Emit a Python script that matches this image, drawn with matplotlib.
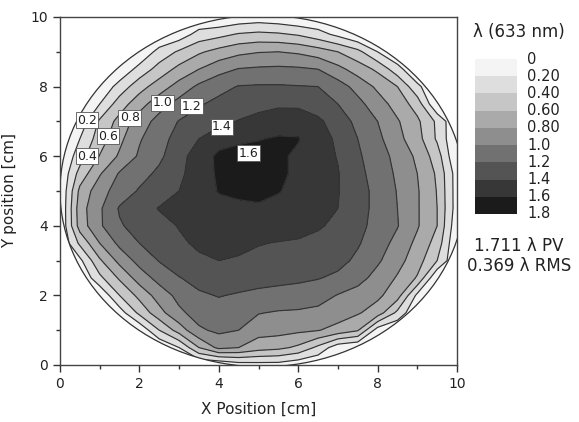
import numpy as np
import matplotlib
matplotlib.use("Agg")
import matplotlib.pyplot as plt
from matplotlib.patches import Ellipse
from matplotlib.transforms import blended_transform_factory

# wavefront error in waves (633 nm) on a 0.5 cm grid
# rows: y = 0 .. 10 cm, columns: x = 0 .. 10 cm
x_cm = np.linspace(0, 10, 21)
y_cm = np.linspace(0, 10, 21)
wavefront = [
    [0, 0, 0, 0, 0, 0, 0, 0, 0, 0.10, 0.12, 0.12, 0.05, 0, 0, 0, 0, 0, 0, 0, 0],
    [0, 0, 0, 0, 0, 0, 0.20, 0.60, 0.85, 0.80, 0.69, 0.65, 0.56, 0.35, 0.07, 0, 0, 0, 0, 0, 0],
    [0, 0, 0, 0, 0.03, 0.40, 0.69, 0.97, 1.04, 1.00, 0.88, 0.87, 0.84, 0.81, 0.73, 0.62, 0.10, 0, 0, 0, 0],
    [0, 0, 0, 0.10, 0.45, 0.73, 0.96, 1.08, 1.12, 1.08, 1.01, 0.98, 0.97, 0.95, 0.90, 0.82, 0.71, 0.35, 0, 0, 0],
    [0, 0, 0.02, 0.40, 0.66, 0.89, 1.06, 1.17, 1.21, 1.18, 1.16, 1.15, 1.13, 1.08, 0.99, 0.92, 0.84, 0.69, 0.15, 0, 0],
    [0, 0, 0.35, 0.63, 0.89, 1.07, 1.19, 1.27, 1.32, 1.30, 1.26, 1.24, 1.23, 1.21, 1.16, 1.07, 0.93, 0.78, 0.58, 0, 0],
    [0, 0.15, 0.57, 0.86, 1.07, 1.21, 1.31, 1.37, 1.40, 1.38, 1.35, 1.33, 1.32, 1.30, 1.26, 1.16, 1.03, 0.87, 0.69, 0.40, 0],
    [0, 0.44, 0.80, 1.05, 1.20, 1.28, 1.37, 1.43, 1.46, 1.45, 1.41, 1.39, 1.38, 1.35, 1.30, 1.22, 1.09, 0.94, 0.75, 0.52, 0],
    [0, 0.69, 0.97, 1.18, 1.27, 1.34, 1.41, 1.47, 1.52, 1.54, 1.53, 1.50, 1.46, 1.42, 1.36, 1.26, 1.13, 1.01, 0.82, 0.60, 0.05],
    [0, 0.71, 0.97, 1.22, 1.32, 1.41, 1.46, 1.50, 1.55, 1.57, 1.58, 1.55, 1.50, 1.45, 1.40, 1.28, 1.14, 1.00, 0.82, 0.60, 0.10],
    [0, 0.65, 0.92, 1.09, 1.22, 1.31, 1.40, 1.51, 1.61, 1.63, 1.64, 1.61, 1.55, 1.48, 1.41, 1.28, 1.14, 0.99, 0.82, 0.59, 0.10],
    [0, 0.48, 0.78, 1.02, 1.13, 1.24, 1.36, 1.50, 1.63, 1.68, 1.71, 1.64, 1.56, 1.48, 1.41, 1.26, 1.11, 0.97, 0.80, 0.57, 0.10],
    [0, 0.30, 0.61, 0.83, 1.03, 1.16, 1.33, 1.50, 1.64, 1.68, 1.67, 1.63, 1.57, 1.48, 1.39, 1.23, 1.09, 0.94, 0.76, 0.50, 0],
    [0, 0.20, 0.50, 0.75, 0.98, 1.13, 1.27, 1.40, 1.52, 1.56, 1.59, 1.62, 1.61, 1.50, 1.36, 1.20, 1.05, 0.86, 0.68, 0.37, 0],
    [0, 0.07, 0.43, 0.67, 0.90, 1.07, 1.21, 1.27, 1.34, 1.41, 1.46, 1.50, 1.52, 1.44, 1.30, 1.15, 1.00, 0.82, 0.64, 0.36, 0],
    [0, 0, 0.20, 0.50, 0.72, 0.92, 1.07, 1.18, 1.25, 1.30, 1.34, 1.37, 1.36, 1.30, 1.20, 1.06, 0.89, 0.72, 0.51, 0, 0],
    [0, 0, 0.03, 0.28, 0.52, 0.70, 0.88, 1.04, 1.14, 1.21, 1.22, 1.22, 1.21, 1.20, 1.09, 0.93, 0.76, 0.60, 0.25, 0, 0],
    [0, 0, 0, 0.04, 0.27, 0.48, 0.66, 0.80, 0.93, 1.01, 1.03, 1.04, 1.03, 1.00, 0.86, 0.71, 0.56, 0.28, 0, 0, 0],
    [0, 0, 0, 0, 0.03, 0.27, 0.43, 0.57, 0.67, 0.75, 0.79, 0.80, 0.77, 0.70, 0.60, 0.46, 0.20, 0, 0, 0, 0],
    [0, 0, 0, 0, 0, 0, 0.08, 0.28, 0.34, 0.42, 0.45, 0.43, 0.38, 0.28, 0.15, 0, 0, 0, 0, 0, 0],
    [0, 0, 0, 0, 0, 0, 0, 0, 0, 0.05, 0.08, 0.05, 0, 0, 0, 0, 0, 0, 0, 0, 0],
]

# measured aperture (cm)
aperture_center = (5.1, 5.0)
aperture_radii = (5.1, 5.05)

levels = [0, 0.2, 0.4, 0.6, 0.8, 1.0, 1.2, 1.4, 1.6, 1.8]
level_labels = ["0", "0.20", "0.40", "0.60", "0.80", "1.0", "1.2", "1.4", "1.6", "1.8"]
band_colors = ["#f4f4f4", "#dedede", "#c6c6c6", "#aaaaaa", "#8e8e8e",
               "#717171", "#545454", "#373737", "#1b1b1b"]

# inline contour labels: text, x, y
line_labels = ["0.2", "0.4", "0.6", "0.8", "1.0", "1.2", "1.4", "1.6"]
line_label_x = [0.68, 0.68, 1.21, 1.76, 2.59, 3.32, 4.08, 4.74]
line_label_y = [7.04, 6.00, 6.58, 7.10, 7.53, 7.44, 6.84, 6.09]

pv_text = "1.711 \u03bb PV"
rms_text = "0.369 \u03bb RMS"

W, H = 579, 422
fig = plt.figure(figsize=(W / 100, H / 100), dpi=100)
ax = fig.add_axes([60 / W, 57 / H, 397 / W, 348 / H])

X, Y = np.meshgrid(x_cm, y_cm)
Z = np.array(wavefront)

clip = Ellipse(aperture_center, 2 * aperture_radii[0], 2 * aperture_radii[1],
               transform=ax.transData)
cf = ax.contourf(X, Y, Z, levels=levels, colors=band_colors)
cf.set_clip_path(clip)
cl = ax.contour(X, Y, Z, levels=levels[1:-1], colors="#333333", linewidths=0.85)
cl.set_clip_path(clip)
ax.add_patch(Ellipse(aperture_center, 2 * aperture_radii[0], 2 * aperture_radii[1],
                     fill=False, edgecolor="#333333", linewidth=0.9))

for txt, lx, ly in zip(line_labels, line_label_x, line_label_y):
    ax.text(lx, ly, txt, fontsize=9, ha="center", va="center", color="#222222",
            bbox=dict(boxstyle="square,pad=0.12", facecolor="white",
                      edgecolor="#555555", linewidth=0.6))

ax.set_xlim(0, 10)
ax.set_ylim(0, 10)
ax.set_xticks([0, 2, 4, 6, 8, 10])
ax.set_yticks([0, 2, 4, 6, 8, 10])
ax.set_xticks([1, 3, 5, 7, 9], minor=True)
ax.set_yticks([1, 3, 5, 7, 9], minor=True)
ax.tick_params(which="both", direction="out", top=False, right=False,
               color="#333333", width=1.0, labelsize=10, labelcolor="#222222")
ax.tick_params(which="major", length=5)
ax.tick_params(which="minor", length=3)
for s in ax.spines.values():
    s.set_color("#444444")
    s.set_linewidth(1.0)
ax.set_xlabel("X Position [cm]", fontsize=11, color="#222222", labelpad=8)
ax.set_ylabel("Y position [cm]", fontsize=11, color="#222222", labelpad=10)

# legend bar
top_px, bot_px = 59, 214
lax = fig.add_axes([475 / W, 1 - bot_px / H, 42 / W, (bot_px - top_px) / H])
for lo, hi, c in zip(levels[:-1], levels[1:], band_colors):
    lax.bar(0.5, hi - lo, bottom=lo, width=1.0, color=c, edgecolor="none")
lax.set_xlim(0, 1)
lax.set_ylim(levels[-1], levels[0])
lax.axis("off")
tr = blended_transform_factory(lax.transAxes, lax.transData)
for v, lab in zip(levels, level_labels):
    lax.text(1.25, v, lab, transform=tr, ha="left", va="center",
             fontsize=10.5, color="#222222")

fig.text(519 / W, 1 - 32 / H, "\u03bb (633 nm)", ha="center", va="center",
         fontsize=12, color="#222222")
fig.text(519 / W, 1 - 246 / H, pv_text, ha="center", va="center",
         fontsize=12, color="#222222")
fig.text(519 / W, 1 - 266 / H, rms_text, ha="center", va="center",
         fontsize=12, color="#222222")

fig.savefig("out.png", dpi=100)
